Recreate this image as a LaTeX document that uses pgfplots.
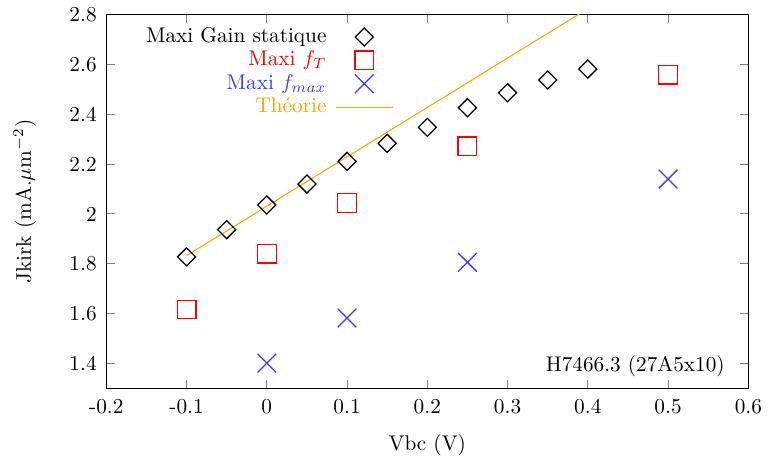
\documentclass[border=0pt]{standalone}
\usepackage{pgfplots}
\pgfplotsset{compat=1.18}
\definecolor{myorange}{RGB}{255,165,0}
\definecolor{myblue}{RGB}{60,60,255}
\pgfplotsset{
  markleg/.style={legend image code/.code={\draw[##1] plot coordinates {(0.475cm,0cm)};}},
  lineleg/.style={legend image code/.code={\draw[##1] (0cm,0cm) -- (0.95cm,0cm);}},
}
\begin{document}
\begin{tikzpicture}
\begin{axis}[
  name=ax,
  scale only axis,
  width=302pt, height=176pt,
  xmin=-0.2, xmax=0.6, ymin=1.3, ymax=2.8,
  xtick={-0.2,-0.1,0,0.1,0.2,0.3,0.4,0.5,0.6},
  xticklabels={-0.2,-0.1,0,0.1,0.2,0.3,0.4,0.5,0.6},
  ytick={1.4,1.6,1.8,2,2.2,2.4,2.6,2.8},
  yticklabels={1.4,1.6,1.8,2,2.2,2.4,2.6,2.8},
  tick align=inside, tick pos=both,
  major tick length=4pt,
  tick style={line width=0.5pt},
  xticklabel style={yshift=-1.5pt},
  yticklabel style={xshift=-1pt},
  xlabel={Vbc (V)},
  ylabel={Jkirk (mA.$\mu$m$^{-2}$)},
  every axis x label/.style={at={(axis description cs:0.5,-0.152)}, anchor=center},
  every axis y label/.style={at={(axis description cs:-0.127,0.5)}, anchor=center, rotate=90},
  legend plot pos=right,
  legend cell align=right,
  legend style={draw=none, fill=none, at={(0.448,0.972)}, anchor=north east,
    inner sep=0pt, row sep=0pt, column sep=3pt,
    nodes={text height=7.5pt, text depth=2.5pt, inner ysep=0.5pt, inner xsep=1pt}},
  clip=true,
]
\addplot[black, only marks, mark=square, mark size=3.0pt, mark options={rotate=45, line width=0.6pt}, markleg]
  coordinates {(-0.1,1.828) (-0.05,1.937) (0,2.036) (0.05,2.12) (0.1,2.211) (0.15,2.283) (0.2,2.347) (0.25,2.426) (0.3,2.486) (0.35,2.537) (0.4,2.581)};
\addlegendentry{Maxi Gain statique}
\addplot[red, only marks, mark=square, mark size=4.4pt, mark options={line width=0.6pt}, markleg]
  coordinates {(-0.1,1.617) (0,1.841) (0.1,2.044) (0.25,2.271) (0.5,2.559)};
\addlegendentry{\textcolor{red}{Maxi $f_T$}}
\addplot[myblue, only marks, mark=x, mark size=6.2pt, mark options={line width=0.6pt}, markleg]
  coordinates {(0,1.402) (0.1,1.583) (0.25,1.806) (0.5,2.140)};
\addlegendentry{\textcolor{myblue}{Maxi $f_{max}$}}
\addplot[myorange, line width=0.5pt, no marks, lineleg]
  coordinates {(-0.1,1.833) (0.4,2.823)};
\addlegendentry{\textcolor{myorange}{Théorie}}
\node[anchor=south east] at (axis cs:0.58,1.318) {H7466.3 (27A5x10)};
\end{axis}
\path (ax.south west) ++(-50pt,-37pt);
\path (ax.north east) ++(7pt,5pt);
\end{tikzpicture}
\end{document}
